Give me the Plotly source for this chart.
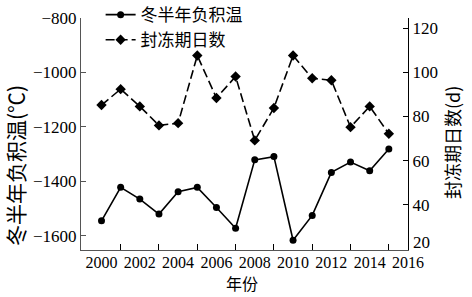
import plotly.graph_objects as go

years = list(range(2000, 2016))
neg_temp = [-1545, -1422, -1465, -1520, -1438, -1422, -1496, -1572,
            -1321, -1309, -1616, -1525, -1367, -1329, -1361, -1281]
freeze_days = [85.2, 92.4, 84.6, 76.0, 77.0, 107.6, 88.4, 98.1,
               69.2, 83.9, 107.6, 97.3, 96.4, 75.2, 84.6, 72.2]
x_labels = list(range(2000, 2017, 2))
y1_ticks = [-800, -1000, -1200, -1400, -1600]
y2_ticks = [20, 40, 60, 80, 100, 120]

serif = "Liberation Serif"
cjk = "Noto Sans CJK SC"
axcol = "#555555"

fig = go.Figure()
fig.add_trace(go.Scatter(
    x=years, y=neg_temp, name="冬半年负积温", mode="lines+markers",
    line=dict(color="black", width=1.6),
    marker=dict(symbol="circle", size=7, color="black"),
    yaxis="y"))
fig.add_trace(go.Scatter(
    x=years, y=freeze_days, name="封冻期日数", mode="lines+markers",
    line=dict(color="black", width=1.6, dash="9px,4px"),
    marker=dict(symbol="diamond", size=8, color="black"),
    yaxis="y2"))

# bottom right-axis label is drawn slightly raised (as in the original)
y2_text = ["" if v == y2_ticks[0] else str(v) for v in y2_ticks]

fig.update_layout(
    width=472, height=297,
    margin=dict(l=81, r=64, t=18, b=47, autoexpand=False),
    paper_bgcolor="white", plot_bgcolor="white",
    font=dict(family=serif, size=17, color="black"),
    showlegend=True,
    legend=dict(x=0.06, y=1.09, xanchor="left", yanchor="top",
                bgcolor="rgba(0,0,0,0)", font=dict(family=cjk, size=17),
                itemwidth=30, tracegroupgap=0),
    xaxis=dict(
        range=[1998.93, 2016.0], tickmode="array", tickvals=x_labels,
        ticktext=[str(v) for v in x_labels], ticks="", ticklabelstandoff=-2,
        showline=True, linecolor=axcol, linewidth=1.2, showgrid=False,
        zeroline=False, tickfont=dict(family=serif, size=16),
        minor=dict(tickmode="array", tickvals=list(range(2001, 2016, 2)),
                   ticks="inside", ticklen=6, tickcolor="black", tickwidth=1),
    ),
    yaxis=dict(
        range=[-1652, -800], tickmode="array", tickvals=y1_ticks,
        ticks="inside", ticklen=5, tickcolor=axcol,
        showline=True, linecolor=axcol, linewidth=1.2, showgrid=False,
        zeroline=False, tickfont=dict(family=serif, size=17),
    ),
    yaxis2=dict(
        range=[19.6, 124.6], overlaying="y", side="right", tickmode="array",
        tickvals=y2_ticks, ticktext=y2_text, ticks="inside", ticklen=5,
        tickcolor="black",
        showline=True, linecolor="black", linewidth=1.2, showgrid=False,
        zeroline=False, tickfont=dict(family=serif, size=17),
    ),
    annotations=[
        dict(text=str(y2_ticks[0]), xref="paper", yref="paper",
             x=1.012, y=-0.012, showarrow=False,
             xanchor="left", yanchor="bottom", borderpad=0,
             font=dict(family=serif, size=17)),
        dict(text="冬半年负积温(℃)", xref="paper", yref="paper",
             x=-0.2018, y=0.362, textangle=-90, showarrow=False,
             xanchor="center", yanchor="middle",
             font=dict(family=cjk, size=21)),
        dict(text="封冻期日数(d)", xref="paper", yref="paper",
             x=1.1346, y=0.461, textangle=-90, showarrow=False,
             xanchor="center", yanchor="middle",
             font=dict(family=cjk, size=18)),
        dict(text="年份", xref="paper", yref="paper",
             x=0.492, y=-0.142, showarrow=False,
             xanchor="center", yanchor="middle", borderpad=0,
             font=dict(family=cjk, size=16)),
    ],
)

fig.write_html("out.html")
